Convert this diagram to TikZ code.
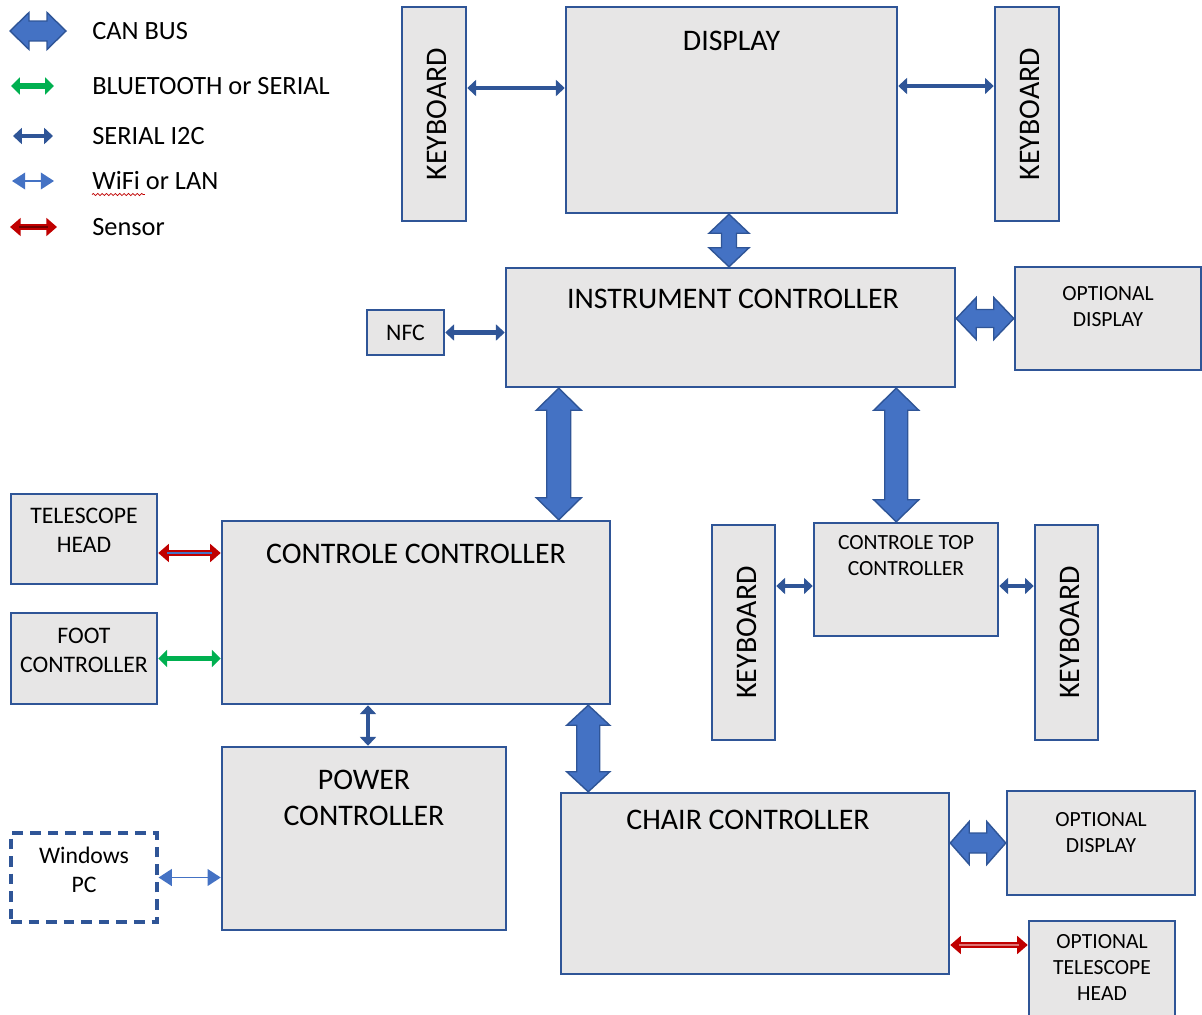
\documentclass[tikz,border=0pt]{standalone}
\usepackage{fontspec}
\setmainfont{Carlito}
\usetikzlibrary{calc,fit,arrows.meta,decorations.pathmorphing}

\definecolor{boxblue}{HTML}{2F5597}
\definecolor{boxgray}{HTML}{E7E6E6}
\definecolor{canblue}{HTML}{4472C4}
\definecolor{btgreen}{HTML}{00B050}
\definecolor{sensred}{HTML}{C00000}

\newcommand\canbus[5]{%
  \coordinate (cbA) at (#1);
  \coordinate (cbB) at (#2);
  \filldraw[canbusarrow] (cbA)
    -- ($(cbA)!#3!(cbB)!#4!90:(cbB)$)
    -- ($(cbA)!#3!(cbB)!#5!90:(cbB)$)
    -- ($(cbB)!#3!(cbA)!#5!-90:(cbA)$)
    -- ($(cbB)!#3!(cbA)!#4!-90:(cbA)$)
    -- (cbB)
    -- ($(cbB)!#3!(cbA)!#4!90:(cbA)$)
    -- ($(cbB)!#3!(cbA)!#5!90:(cbA)$)
    -- ($(cbA)!#3!(cbB)!#5!-90:(cbB)$)
    -- ($(cbA)!#3!(cbB)!#4!-90:(cbB)$)
    -- cycle;
}

\begin{document}
\begin{tikzpicture}[x=0.02cm, y=-0.02cm,
  box/.style={draw=boxblue, fill=boxgray, line width=1.4pt, inner sep=0pt},
  pcbox/.style={draw=boxblue, fill=white, line width=1.8pt, dash pattern=on 6pt off 4pt, inner sep=0pt},
  bigtxt/.style={font=\fontsize{17}{20.4}\selectfont, align=center, inner sep=0pt},
  midtxt/.style={font=\fontsize{13.5}{16.4}\selectfont, align=center, inner sep=0pt},
  smalltxt/.style={font=\fontsize{12.3}{14.7}\selectfont, align=center, inner sep=0pt},
  legtxt/.style={font=\fontsize{15}{18}\selectfont, inner sep=0pt},
  canbusarrow/.style={fill=canblue, draw=boxblue, line width=0.8pt},
  i2c/.style={draw=boxblue, line width=2.8pt, >={Triangle[width=9pt,length=5pt]}, <->},
  bt/.style={draw=btgreen, line width=3.4pt, >={Triangle[width=9.5pt,length=5pt]}, <->},
  wifi/.style={draw=canblue, line width=1pt, >={Triangle[width=9.5pt,length=7.5pt]}, <->},
  sensor/.style={draw=sensred, line width=3.8pt, >={Triangle[width=10pt,length=6pt]}, <->},
  sensorcore/.style={line width=1pt, shorten <=5pt, shorten >=5pt},
]
\useasboundingbox (0,0) rectangle (1202,1014);
\clip (0,0) rectangle (1202,1014);

\node[legtxt, anchor=west] (lgcan) at (92,31) {CAN BUS};
\node[legtxt, anchor=west] (lgbt) at (92,86) {BLUETOOTH or SERIAL};
\node[legtxt, anchor=west] (lgi2c) at (92,136) {SERIAL I2C};
\node[legtxt, anchor=west] (lgwifi) at (92,181) {WiFi or LAN};
\node[legtxt, anchor=west] (lgsens) at (92,227) {Sensor};
\canbus{[xshift=-1.64cm]lgcan.west}{[xshift=-0.52cm]lgcan.west}{0.38cm}{0.37cm}{0.20cm}
\draw[bt] ([xshift=-1.62cm]lgbt.west) -- ([xshift=-0.76cm]lgbt.west);
\draw[i2c] ([xshift=-1.58cm]lgi2c.west) -- ([xshift=-0.78cm]lgi2c.west);
\draw[wifi] ([xshift=-1.60cm]lgwifi.west) -- ([xshift=-0.76cm]lgwifi.west);
\draw[sensor] ([xshift=-1.64cm]lgsens.west) -- ([xshift=-0.70cm]lgsens.west);
\draw[sensorcore, draw=sensred!60!black] ([xshift=-1.64cm]lgsens.west) -- ([xshift=-0.70cm]lgsens.west);
\draw[sensred, decorate, decoration={snake, amplitude=0.6pt, segment length=2.5pt}] ([yshift=-0.08cm]lgwifi.south west) -- ++(1.06cm,0);

\node[box, fit={(402,7) (466,221)}, label={[bigtxt, rotate=90, yshift=-0.06cm]center:KEYBOARD}] (kbl) {};
\node[box, fit={(566,7) (897,213)}, label={[bigtxt, anchor=center, yshift=-0.70cm]north:DISPLAY}] (display) {};
\node[box, fit={(995,7) (1059,221)}, label={[bigtxt, rotate=90, yshift=-0.06cm]center:KEYBOARD}] (kbr) {};
\node[box, fit={(506,268) (955,387)}, label={[bigtxt, anchor=center, xshift=0.05cm, yshift=-0.64cm]north:INSTRUMENT CONTROLLER}] (instr) {};
\node[box, fit={(1015,267) (1201,370)}, label={[smalltxt, anchor=center, yshift=-0.82cm]north:OPTIONAL\\DISPLAY}] (optd1) {};
\node[box, fit={(367,310) (444,355)}, label={[midtxt]center:NFC}] (nfc) {};
\node[box, fit={(11,494) (157,584)}, label={[midtxt, anchor=center, yshift=-0.75cm]north:TELESCOPE\\HEAD}] (tele) {};
\node[box, fit={(11,613) (157,704)}, label={[midtxt, anchor=center, yshift=-0.77cm]north:FOOT\\CONTROLLER}] (foot) {};
\node[box, fit={(222,521) (610,704)}, label={[bigtxt, anchor=center, yshift=-0.68cm]north:CONTROLE CONTROLLER}] (ctrl) {};
\node[box, fit={(712,525) (775,740)}, label={[bigtxt, rotate=90, yshift=-0.06cm]center:KEYBOARD}] (kbm1) {};
\node[box, fit={(814,523) (998,636)}, label={[smalltxt, anchor=center, yshift=-0.68cm]north:CONTROLE TOP\\CONTROLLER}] (ctop) {};
\node[box, fit={(1035,525) (1098,740)}, label={[bigtxt, rotate=90, yshift=-0.06cm]center:KEYBOARD}] (kbm2) {};
\node[box, fit={(222,747) (506,930)}, label={[bigtxt, anchor=center, yshift=-1.04cm]north:POWER\\CONTROLLER}] (power) {};
\node[pcbox, fit={(11,833) (157,922)}, label={[midtxt, anchor=center, yshift=-0.77cm]north:Windows\\PC}] (win) {};
\node[box, fit={(561,793) (949,974)}, label={[bigtxt, anchor=center, xshift=-0.14cm, yshift=-0.56cm]north:CHAIR CONTROLLER}] (chair) {};
\node[box, fit={(1007,791) (1195,895)}, label={[smalltxt, anchor=center, yshift=-0.86cm]north:OPTIONAL\\DISPLAY}] (optd2) {};
\node[box, fit={(1029,921) (1175,1030)}, label={[smalltxt, anchor=center, yshift=-0.96cm]north:OPTIONAL\\TELESCOPE\\HEAD}] (opttele) {};

\draw[i2c] ([yshift=0.52cm]kbl.east) -- ([yshift=0.52cm]kbl.east -| display.west);
\draw[i2c] ([yshift=0.48cm]display.east) -- ([yshift=0.48cm]display.east -| kbr.west);
\canbus{[xshift=-0.05cm]display.south}{[xshift=-0.05cm]display.south |- instr.north}{0.38cm}{0.40cm}{0.15cm}
\draw[i2c] (nfc.east) -- (nfc.east -| instr.west);
\canbus{optd1.west -| instr.east}{optd1.west}{0.40cm}{0.42cm}{0.18cm}
\canbus{[xshift=1.08cm]instr.south west}{[xshift=1.08cm]instr.south west |- ctrl.north}{0.44cm}{0.45cm}{0.24cm}
\canbus{[xshift=-1.20cm]instr.south east}{[xshift=-1.20cm]instr.south east |- ctop.north}{0.44cm}{0.45cm}{0.23cm}
\draw[sensor] ([yshift=-0.28cm]tele.east) -- ([yshift=-0.28cm]tele.east -| ctrl.west);
\draw[sensorcore, draw=canblue] ([yshift=-0.28cm]tele.east) -- ([yshift=-0.28cm]tele.east -| ctrl.west);
\draw[bt] (foot.east) -- (foot.east -| ctrl.west);
\draw[i2c] ([yshift=-0.13cm]ctop.west -| kbm1.east) -- ([yshift=-0.13cm]ctop.west);
\draw[i2c] ([yshift=-0.13cm]ctop.east) -- ([yshift=-0.13cm]ctop.east -| kbm2.west);
\draw[i2c] ([xshift=0.08cm]power.north |- ctrl.south) -- ([xshift=0.08cm]power.north);
\canbus{[xshift=-0.46cm]ctrl.south east}{[xshift=-0.46cm]ctrl.south east |- chair.north}{0.40cm}{0.43cm}{0.23cm}
\draw[wifi] (win.east) -- (win.east -| power.west);
\canbus{optd2.west -| chair.east}{optd2.west}{0.38cm}{0.43cm}{0.20cm}
\draw[sensor] ([yshift=-1.23cm]chair.east) -- ([yshift=-1.23cm]chair.east -| opttele.west);
\draw[sensorcore, draw=sensred!55!white] ([yshift=-1.23cm]chair.east) -- ([yshift=-1.23cm]chair.east -| opttele.west);
\end{tikzpicture}
\end{document}
